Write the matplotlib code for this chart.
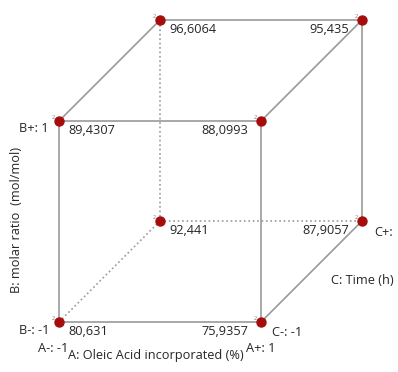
import matplotlib.pyplot as plt

# coded factor levels for the 8 cube corners and the response at each
A = [-1, 1, -1, 1, -1, 1, -1, 1]
B = [-1, -1, 1, 1, -1, -1, 1, 1]
C = [-1, -1, -1, -1, 1, 1, 1, 1]
resp = ['80,631', '75,9357', '89,4307', '88,0993',
        '92,441', '87,9057', '96,6064', '95,435']

# cube projection (layout only)
x0, y0 = 59, 322
ax_len, by_len = 202, 201
cx, cy = 101, 101


def proj(a, b, c):
    return (x0 + ax_len * (a + 1) / 2 + cx * (c + 1) / 2,
            y0 - by_len * (b + 1) / 2 - cy * (c + 1) / 2)


fig = plt.figure(figsize=(3.98, 3.72), dpi=100)
ax = fig.add_axes([0, 0, 1, 1])
ax.set_xlim(0, 398)
ax.set_ylim(372, 0)
ax.axis('off')

plt.rcParams['font.family'] = ['Open Sans', 'DejaVu Sans']
fs = 9.2
gray = '#9a9a9a'
tc = '#262626'

pts = [proj(a, b, c) for a, b, c in zip(A, B, C)]

# edges: pairs differing in exactly one factor
hidden = 4  # corner A-, B-, C+ sits behind
for i in range(8):
    for j in range(i + 1, 8):
        diff = (A[i] != A[j]) + (B[i] != B[j]) + (C[i] != C[j])
        if diff == 1:
            ls = ':' if hidden in (i, j) else '-'
            ax.plot([pts[i][0], pts[j][0]], [pts[i][1], pts[j][1]],
                    color=gray, lw=1.2, ls=ls, zorder=1)

for k, (px, py) in enumerate(pts):
    ax.plot(px, py, 'o', color='#a50d0d', ms=6.5, zorder=3)
    if A[k] == -1:
        ax.text(px + 9, py + 3, resp[k], fontsize=fs, color=tc,
                ha='left', va='top')
        ax.text(px - 4, py - 1, '2', fontsize=4, color='#777777',
                ha='right', va='bottom')
    else:
        ax.text(px - 13, py + 3, resp[k], fontsize=fs, color=tc,
                ha='right', va='top')
        ax.text(px - 4, py - 1, '2', fontsize=4, color='#777777',
                ha='right', va='bottom')

# factor labels
ax.text(19, 129, 'B+: 1', fontsize=fs, color=tc, va='center')
ax.text(19, 331, 'B-: -1', fontsize=fs, color=tc, va='center')
ax.text(38, 348, 'A-: -1', fontsize=fs, color=tc, va='center')
ax.text(68, 356, 'A: Oleic Acid incorporated (%)', fontsize=fs,
        color=tc, va='center')
ax.text(246, 348, 'A+: 1', fontsize=fs, color=tc, va='center')
ax.text(272, 333, 'C-: -1', fontsize=fs, color=tc, va='center')
ax.text(374, 232, 'C+:', fontsize=fs, color=tc, va='center')
ax.text(331, 281, 'C: Time (h)', fontsize=fs, color=tc, va='center')
ax.text(17, 220, 'B: molar ratio  (mol/mol)', fontsize=fs, color=tc,
        rotation=90, ha='center', va='center')

fig.savefig('out.png', dpi=100, facecolor='white')
